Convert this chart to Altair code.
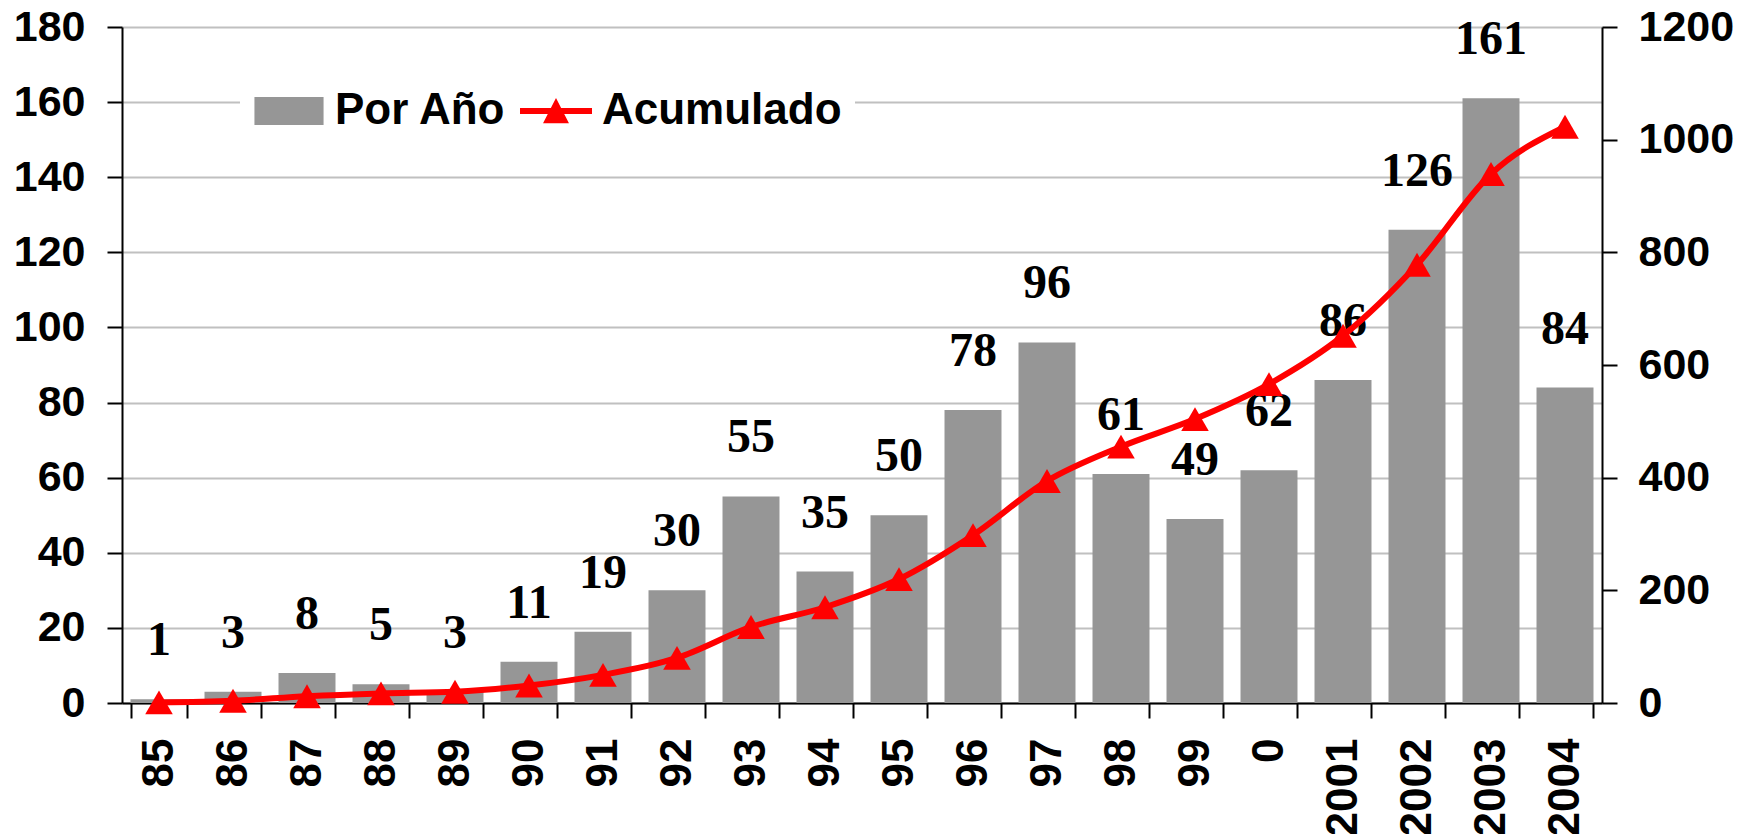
import altair as alt
import pandas as pd

# ---- data ----
years = ["85", "86", "87", "88", "89", "90", "91", "92", "93", "94",
         "95", "96", "97", "98", "99", "0", "2001", "2002", "2003", "2004"]
por_anio = [1, 3, 8, 5, 3, 11, 19, 30, 55, 35, 50, 78, 96, 61, 49, 62, 86, 126, 161, 84]
acumulado = [1, 4, 12, 17, 20, 31, 50, 80, 135, 170, 220, 298, 394, 455, 504, 566, 652, 778, 939, 1023]
series = ["Por Año", "Acumulado"]
left_ticks = [0, 20, 40, 60, 80, 100, 120, 140, 160, 180]
right_ticks = [0, 200, 400, 600, 800, 1000, 1200]

df = pd.DataFrame({"year": years, "por_anio": por_anio, "acumulado": acumulado})
leg_df = pd.DataFrame({"serie": series})

BAR_GRAY = "#969696"
RED = "#ff0000"
SANS = "Liberation Sans"
SERIF = "Liberation Serif"

x_enc = alt.X(
    "year:N", sort=years,
    scale=alt.Scale(paddingInner=0.23, paddingOuter=0.115),
    axis=alt.Axis(
        title=None, labelAngle=270, labelFont=SANS, labelFontSize=44,
        labelFontWeight="bold", labelColor="black", labelPadding=20,
        labelOverlap=False, tickBand="extent", tickSize=15, tickWidth=2,
        tickColor="black", domainColor="black", domainWidth=2, grid=False,
    ),
)

left_scale = alt.Scale(domain=[0, 180], nice=False, zero=True)
right_scale = alt.Scale(domain=[0, 1200], nice=False, zero=True)

left_axis = alt.Axis(
    orient="left", values=left_ticks, title=None, grid=True, format="d",
    gridColor="#c0c0c0", gridWidth=2, domainColor="black", domainWidth=2,
    tickColor="black", tickWidth=2, tickSize=15, labelFont=SANS,
    labelFontSize=43, labelFontWeight="bold", labelColor="black",
    labelPadding=22, labelOverlap=False,
)
right_axis = alt.Axis(
    orient="right", values=right_ticks, title=None, grid=False, format="d",
    domainColor="black", domainWidth=2, tickColor="black", tickWidth=2,
    tickSize=15, labelFont=SANS, labelFontSize=43, labelFontWeight="bold",
    labelColor="black", labelPadding=21, labelOverlap=False,
)

bars = alt.Chart(df).mark_bar(color=BAR_GRAY).encode(
    x=x_enc,
    y=alt.Y("por_anio:Q", scale=left_scale, axis=left_axis),
)

labels = alt.Chart(df).mark_text(
    font=SERIF, fontSize=48, fontWeight="bold", color="black",
    baseline="middle", align="center", dy=-58,
).encode(
    x=x_enc,
    y=alt.Y("por_anio:Q", scale=left_scale, axis=left_axis),
    text="por_anio:Q",
)

line = alt.Chart(df).mark_line(
    color=RED, strokeWidth=6, interpolate="monotone",
    point=alt.OverlayMarkDef(shape="triangle-up", size=760, filled=True,
                             color=RED, opacity=1),
).encode(
    x=x_enc,
    y=alt.Y("acumulado:Q", scale=right_scale, axis=right_axis),
)

RECT = "M-0.96,-0.39H0.96V0.39H-0.96Z"
LINE_TRI = "M-1,-0.08H1V0.08H-1Z M0,-0.36L0.36,0.34L-0.36,0.34Z"

leg = alt.Legend(
    orient="none", legendX=118, legendY=35, direction="horizontal",
    title=None, fillColor="white", padding=13, labelFont=SANS,
    labelFontSize=44, labelFontWeight="bold", labelColor="black",
    labelLimit=500, symbolSize=5184, symbolStrokeWidth=0, symbolOpacity=1,
    labelOffset=10, columnPadding=13,
)

legend_layer = alt.Chart(leg_df).transform_filter("false").mark_point(
    filled=True, opacity=1
).encode(
    color=alt.Color("serie:N", scale=alt.Scale(domain=series, range=[BAR_GRAY, RED]), legend=leg),
    shape=alt.Shape("serie:N", scale=alt.Scale(domain=series, range=[RECT, LINE_TRI]), legend=leg),
)

chart = alt.layer(
    alt.layer(bars, labels),
    line,
    legend_layer,
).resolve_scale(y="independent").properties(
    width=1480, height=676,
    padding={"left": 122, "top": 27, "right": 148, "bottom": 131},
    autosize=alt.AutoSizeParams(type="none"),
    background="white",
).configure_view(stroke=None)

chart.save("out.html", embed_options={"renderer": "svg", "actions": False})
